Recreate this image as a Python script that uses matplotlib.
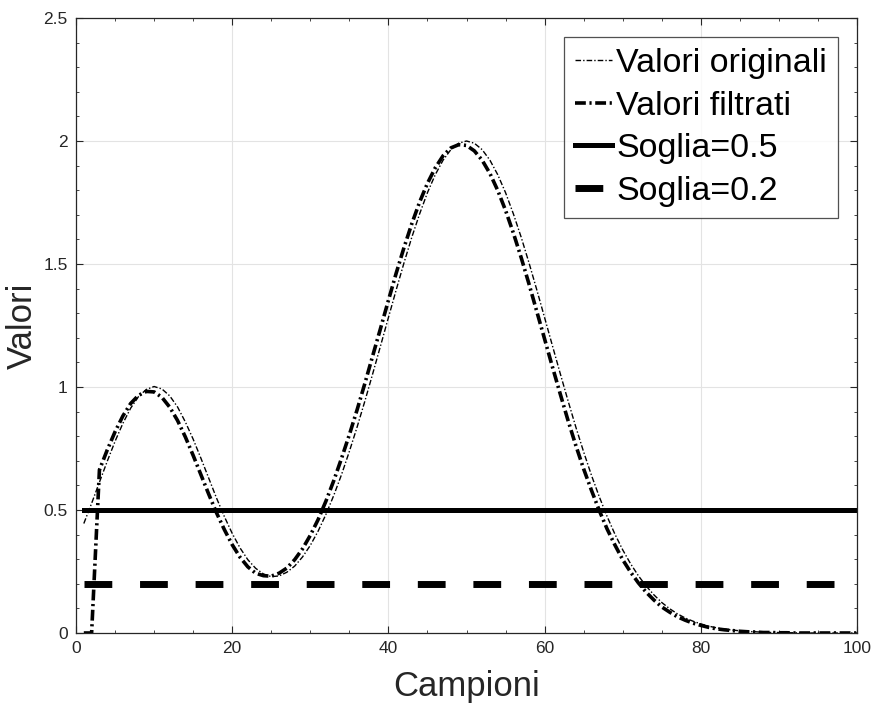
import numpy as np
import matplotlib
matplotlib.use("Agg")
import matplotlib.pyplot as plt
from matplotlib.ticker import MultipleLocator

plt.rcParams['font.family'] = ['Liberation Sans', 'DejaVu Sans']

# campioni 1..100
samples = np.arange(1, 101)

# valori originali
original = [
    0.445, 0.527, 0.613, 0.698, 0.779, 0.852, 0.914, 0.961, 0.990, 1.002,
    0.992, 0.964, 0.919, 0.858, 0.788, 0.710, 0.629, 0.548, 0.473, 0.405,
    0.346, 0.298, 0.263, 0.240, 0.229, 0.232, 0.247, 0.272, 0.309, 0.356,
    0.414, 0.482, 0.559, 0.644, 0.738, 0.838, 0.944, 1.055, 1.168, 1.282,
    1.395, 1.505, 1.609, 1.704, 1.790, 1.863, 1.922, 1.965, 1.991, 2.000,
    1.991, 1.965, 1.922, 1.863, 1.790, 1.704, 1.609, 1.505, 1.395, 1.282,
    1.168, 1.055, 0.944, 0.837, 0.736, 0.641, 0.554, 0.474, 0.402, 0.338,
    0.282, 0.233, 0.191, 0.155, 0.124, 0.099, 0.078, 0.061, 0.048, 0.037,
    0.028, 0.021, 0.016, 0.012, 0.009, 0.006, 0.005, 0.003, 0.002, 0.002,
    0.001, 0.001, 0.000, 0.000, 0.000, 0.000, 0.000, 0.000, 0.000, 0.000,
]

# valori filtrati
filtered = [
    0.000, 0.000, 0.663, 0.744, 0.818, 0.882, 0.933, 0.966, 0.982, 0.980,
    0.958, 0.918, 0.864, 0.797, 0.722, 0.643, 0.564, 0.488, 0.420, 0.359,
    0.308, 0.269, 0.243, 0.233, 0.231, 0.243, 0.264, 0.298, 0.342, 0.397,
    0.461, 0.536, 0.619, 0.710, 0.806, 0.908, 1.016, 1.128, 1.239, 1.352,
    1.463, 1.567, 1.664, 1.752, 1.828, 1.891, 1.940, 1.972, 1.985, 1.982,
    1.960, 1.922, 1.868, 1.799, 1.718, 1.626, 1.526, 1.419, 1.307, 1.195,
    1.082, 0.972, 0.864, 0.762, 0.667, 0.580, 0.498, 0.423, 0.358, 0.298,
    0.248, 0.204, 0.166, 0.134, 0.106, 0.085, 0.066, 0.052, 0.040, 0.031,
    0.023, 0.017, 0.013, 0.010, 0.007, 0.005, 0.004, 0.002, 0.002, 0.001,
    0.001, 0.000, 0.000, 0.000, 0.000, 0.000, 0.000, 0.000, 0.000, 0.000,
]

threshold_high = 0.5
threshold_low = 0.2

x_ticks = [0, 20, 40, 60, 80, 100]
x_tick_labels = ['0', '20', '40', '60', '80', '100']
y_ticks = [0, 0.5, 1, 1.5, 2, 2.5]
y_tick_labels = ['0', '0.5', '1', '1.5', '2', '2.5']

fig = plt.figure(figsize=(8.73, 7.03), dpi=100)
ax = fig.add_axes([76 / 873, 1 - 633 / 703, (857 - 76) / 873, (633 - 18) / 703])

ax.plot(samples, original, color='black', lw=1.0, dashes=(4, 1.5, 1, 1.5),
        label='Valori originali')
ax.plot(samples, filtered, color='black', lw=2.6, dashes=(3.0, 1.0, 0.6, 1.0),
        label='Valori filtrati')
ax.plot(samples, np.full(len(samples), threshold_high), color='black', lw=3.6,
        label='Soglia=0.5')
ax.plot(samples, np.full(len(samples), threshold_low), color='black', lw=5.0,
        dashes=(4, 4), label='Soglia=0.2')

ax.set_xlim(0, 100)
ax.set_ylim(0, 2.5)
ax.set_xticks(x_ticks, labels=x_tick_labels)
ax.set_yticks(y_ticks, labels=y_tick_labels)
ax.xaxis.set_minor_locator(MultipleLocator(5))
ax.yaxis.set_minor_locator(MultipleLocator(0.1))

ax.grid(True, which='major', color='#e3e3e3', lw=0.8)
ax.set_axisbelow(True)
ax.tick_params(which='both', direction='in', top=True, right=True,
               colors='#262626', labelsize=12.5, labelcolor='#262626')
ax.tick_params(which='major', length=5, width=0.8, pad=6)
ax.tick_params(which='minor', length=2.5, width=0.6)
for s in ax.spines.values():
    s.set_color('#262626')
    s.set_linewidth(0.9)

ax.set_xlabel('Campioni', fontsize=25, color='#262626', labelpad=10)
ax.set_ylabel('Valori', fontsize=25, color='#262626')
ax.yaxis.set_label_coords(-0.048, 0.5)

leg = ax.legend(loc='upper right', bbox_to_anchor=(838 / 873, 1 - 37 / 703),
                bbox_transform=fig.transFigure, fontsize=24.5, frameon=True,
                fancybox=False, edgecolor='#262626', handlelength=1.08,
                handletextpad=0.12, borderpad=0.33, labelspacing=0.34,
                borderaxespad=0)
leg.get_frame().set_linewidth(0.9)

fig.savefig('out.png', dpi=100)
